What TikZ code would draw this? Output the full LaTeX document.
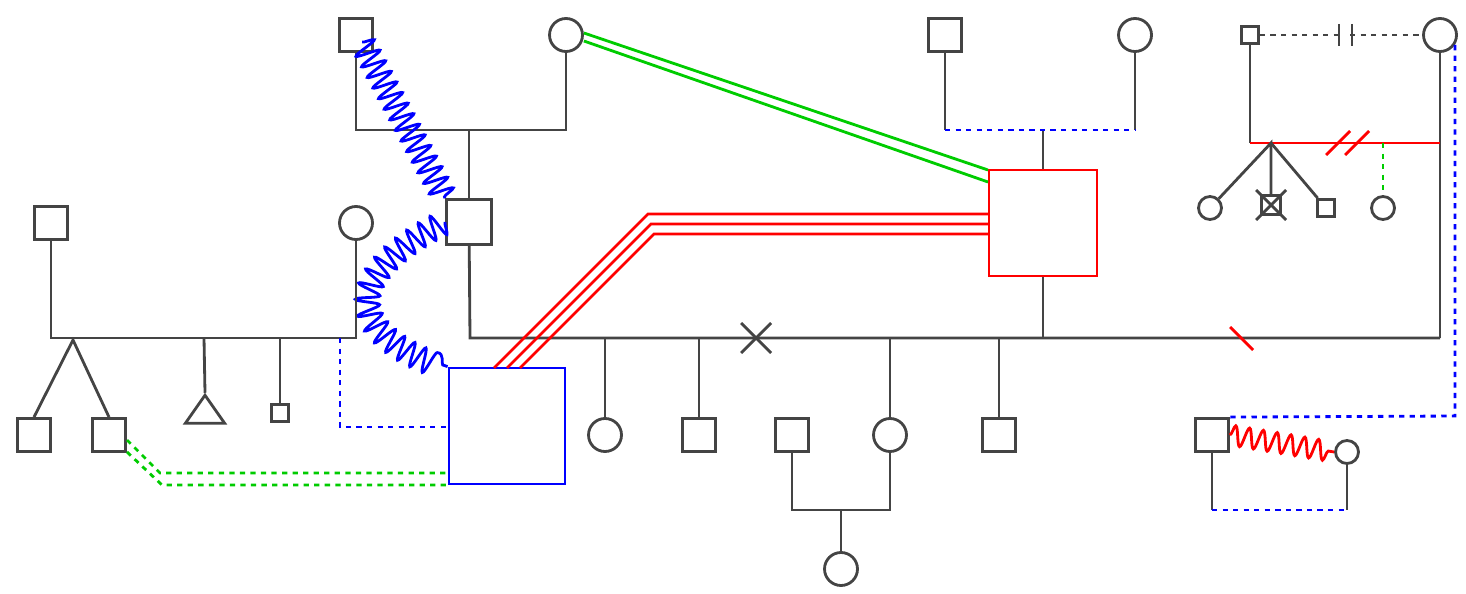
\documentclass[tikz,border=0pt]{standalone}
\usetikzlibrary{positioning,calc,shapes.geometric,decorations.pathmorphing}
\definecolor{ink}{HTML}{444444}
\definecolor{lgreen}{HTML}{00CC00}
\tikzset{
  lw/.style={line width=1.6pt},
  male/.style={draw=ink,lw,fill=white,minimum size=0.66cm,inner sep=0pt},
  female/.style={draw=ink,lw,fill=white,circle,minimum size=0.66cm,inner sep=0pt},
  smale/.style={male,minimum size=0.34cm},
  sfemale/.style={female,minimum size=0.46cm},
  line/.style={draw=ink,lw},
  coil/.style={lw,decorate,decoration={snake,segment length=#1,amplitude=0.24cm}},
}
\begin{document}
\begin{tikzpicture}[x=0.02cm,y=-0.02cm]
\useasboundingbox (0,0) rectangle (1466,594);

% grandparents, top left
\node[male] (A) at (356,35) {};
\node[female] (B) at (566,35) {};
\draw[line] (A) -- (356,130) -- (566,130) -- (B);
\node[male,minimum size=0.9cm] (C) at (469,222) {};
\draw[line] (469,130) -- (C);

% main line
\coordinate (mainL) at (470,338);
\coordinate (mainR) at (1440,338);
\draw[line] (C) -- (mainL) -- (mainR);
\node[female] (TR) at (1440,35) {};
\draw[line] (TR) -- (mainR);

% blue and red squares
\node[draw=blue,lw,minimum size=2.32cm,inner sep=0pt] (D) at (507,426) {};
\node[draw=red,lw,minimum width=2.16cm,minimum height=2.12cm,inner sep=0pt] (E) at (1043,223) {};
\draw[line] (E) -- (1043,338);

% parents of E
\node[male] (F) at (945,35) {};
\node[female] (G) at (1135,35) {};
\draw[line] (F) -- (945,130);
\draw[line] (G) -- (1135,130);
\draw[line] (1043,130) -- (E);
\draw[blue,dashed,lw] (945,130) -- (1135,130);

% relations
\draw[blue,coil=0.24cm] (362,42) -- (C.north west);
\draw[blue,coil=0.26cm] (C.west) .. controls (350,270) and (340,330) .. (D.north west);
\draw[lgreen,lw] (B.east) ++(0,-2) -- (988,170);
\draw[lgreen,lw] (B.east) ++(0,6) -- (988,182);
\foreach \x/\y in {494/214,507/224,520/234}
  \draw[red,lw] (\x,368) -- (\x+368-\y,\y) -- (988,\y);

% left family
\node[male] (H) at (51,223) {};
\node[female] (I) at (356,223) {};
\draw[line] (H) -- (51,338) -- (356,338) -- (I);
\node[male] (J) at (34,435) {};
\node[male] (K) at (109,435) {};
\draw[line] (J.north) -- (73,340) -- (K.north);
\node[draw=ink,lw,isosceles triangle,shape border rotate=90,minimum height=0.56cm,minimum width=0.6cm,inner sep=0pt,isosceles triangle apex angle=70] (T) at (205,413) {};
\draw[line] (204,338) -- (T.apex);
\node[smale] (L) at (280,413) {};
\draw[line] (280,338) -- (L);
\draw[blue,dashed,lw] (340,338) -- (340,427) -- (449,427);
\draw[lgreen,dashed,lw] (127,440) -- (160,473) -- (449,473);
\draw[lgreen,dashed,lw] (127,452) -- (162,485) -- (449,485);

% children of the main line
\node[female] (M) at (605,435) {};
\node[male] (N) at (699,435) {};
\node[female] (O) at (890,435) {};
\node[male] (P) at (999,435) {};
\foreach \n/\x in {M/605,N/699,O/890,P/999}
  \draw[line] (\x,338) -- (\n);
\draw[line] (741,323) -- (771,353) (741,353) -- (771,323);
\node[male] (Q) at (792,435) {};
\draw[line] (Q) -- (792,510) -- (890,510) -- (O);
\node[female] (R) at (841,569) {};
\draw[line] (841,510) -- (R);
\draw[red,lw] (1230,327) -- (1253,350);

% top right family
\node[smale] (S) at (1250,35) {};
\draw[ink,dashed,lw] (S) -- (1338,35) (1350,35) -- (TR);
\draw[line] (1339,24) -- (1339,46) (1352,24) -- (1352,46);
\draw[line] (S) -- (1250,143);
\draw[red,lw] (1250,143) -- (1440,143);
\draw[red,lw] (1326,155) -- (1350,131) (1345,155) -- (1369,131);
\node[sfemale] (U) at (1210,208) {};
\node[male,minimum size=0.38cm] (V) at (1271,205) {};
\node[smale] (W) at (1326,208) {};
\draw[line] (U) -- (1271,143) -- (V);
\draw[line] (1271,143) -- (W);
\draw[line] (1256,190) -- (1286,220) (1256,220) -- (1286,190);
\node[sfemale] (X) at (1383,208) {};
\draw[lgreen,dashed,lw] (1383,143) -- (X);

% bottom right couple
\node[male] (Y) at (1212,435) {};
\node[sfemale] (Z) at (1347,452) {};
\draw[blue,dashed,lw] (1455,45) -- (1455,416) -- (Y.north east);
\draw[red,coil=0.28cm,decoration={amplitude=0.2cm}] (Y.east) -- (Z.west);
\draw[line] (Y) -- (1212,510);
\draw[line] (Z) -- (1347,510);
\draw[blue,dashed,lw] (1212,510) -- (1347,510);
\end{tikzpicture}
\end{document}
